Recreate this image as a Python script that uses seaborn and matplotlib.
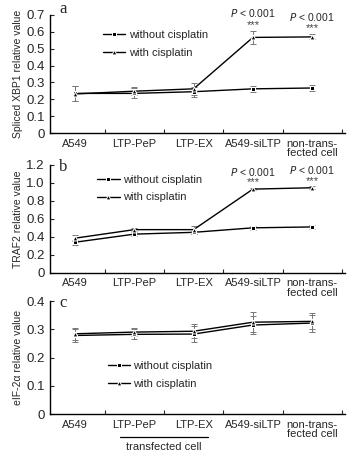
import numpy as np
import pandas as pd
import seaborn as sns
import matplotlib.pyplot as plt
from matplotlib.ticker import FixedLocator

categories = ['A549', 'LTP-PeP', 'LTP-EX', 'A549-siLTP', 'non-trans-\nfected cell']

xbp1_without = [0.235, 0.235, 0.245, 0.262, 0.267]
xbp1_with = [0.232, 0.248, 0.262, 0.567, 0.570]
xbp1_without_err = [0.045, 0.030, 0.030, 0.018, 0.018]
xbp1_with_err = [0.045, 0.025, 0.035, 0.040, 0.015]

traf2_without = [0.340, 0.430, 0.450, 0.500, 0.510]
traf2_with = [0.385, 0.480, 0.480, 0.930, 0.945]
traf2_without_err = [0.030, 0.025, 0.020, 0.020, 0.025]
traf2_with_err = [0.030, 0.020, 0.045, 0.015, 0.015]

eif_without = [0.278, 0.282, 0.283, 0.315, 0.322]
eif_with = [0.284, 0.290, 0.293, 0.325, 0.328]
eif_without_err = [0.022, 0.018, 0.028, 0.032, 0.030]
eif_with_err = [0.022, 0.015, 0.025, 0.035, 0.028]

sns.set_style('ticks')
plt.rcParams['font.family'] = ['Liberation Sans', 'DejaVu Sans']

fig = plt.figure(figsize=(3.63, 4.54), dpi=100)

panels = [
    dict(rect=[0.138, 0.707, 0.812, 0.260], ymax=0.7, yticks=[0, 0.1, 0.2, 0.3, 0.4, 0.5, 0.6, 0.7],
         letter='a', ly=1.05, ylabel='Spliced XBP1 relative value',
         data=(xbp1_without, xbp1_with, xbp1_without_err, xbp1_with_err), leg=(0.165, 0.91), ptext=True),
    dict(rect=[0.138, 0.399, 0.812, 0.238], ymax=1.2, yticks=[0, 0.2, 0.4, 0.6, 0.8, 1.0, 1.2],
         letter='b', ly=0.98, ylabel='TRAF2 relative value',
         data=(traf2_without, traf2_with, traf2_without_err, traf2_with_err), leg=(0.145, 0.95), ptext=True),
    dict(rect=[0.138, 0.088, 0.812, 0.249], ymax=0.4, yticks=[0, 0.1, 0.2, 0.3, 0.4],
         letter='c', ly=0.98, ylabel='eIF-2\u03b1 relative value',
         data=(eif_without, eif_with, eif_without_err, eif_with_err), leg=(0.18, 0.51), ptext=False),
]

x = np.arange(len(categories))

for p in panels:
    ax = fig.add_axes(p['rect'])
    wo, wi, wo_e, wi_e = p['data']
    df = pd.DataFrame({
        'x': np.concatenate([x, x]),
        'value': wo + wi,
        'group': ['without cisplatin'] * 5 + ['with cisplatin'] * 5,
    })
    ax.errorbar(x, wo, yerr=wo_e, fmt='none', ecolor='#777777', elinewidth=0.7, capsize=2, capthick=0.7)
    ax.errorbar(x, wi, yerr=wi_e, fmt='none', ecolor='#777777', elinewidth=0.7, capsize=2, capthick=0.7)
    sns.lineplot(data=df, x='x', y='value', hue='group', style='group',
                 palette=['black', 'black'], markers={'without cisplatin': 's', 'with cisplatin': '^'},
                 dashes=False, markersize=3.5, linewidth=1.0, ax=ax, legend=True)

    ax.set_xlim(-0.42, 4.55)
    ax.set_ylim(0, p['ymax'])
    ax.set_yticks(p['yticks'])
    ax.set_yticklabels(['0' if v == 0 else f'{v:.1f}' for v in p['yticks']], fontsize=9.5)
    ax.set_xticks(x)
    ax.set_xticklabels(categories, fontsize=8, linespacing=0.95)
    ax.xaxis.set_minor_locator(FixedLocator([0.5, 1.5, 2.5, 3.5, 4.5]))
    ax.tick_params(axis='x', which='major', length=0, pad=4)
    ax.tick_params(axis='x', which='minor', direction='in', length=3, width=0.8)
    ax.tick_params(axis='y', direction='in', length=3, width=0.8, pad=4)
    ax.set_xlabel('')
    ax.set_ylabel(p['ylabel'], fontsize=7.5, labelpad=2)
    sns.despine(ax=ax)
    for s in ['left', 'bottom']:
        ax.spines[s].set_linewidth(1.0)
        ax.spines[s].set_color('black')

    ax.text(0.03, p['ly'], p['letter'], transform=ax.transAxes, fontsize=12,
            family='Liberation Serif', ha='left', va='center')

    ax.legend(loc='upper left', bbox_to_anchor=p['leg'], frameon=False, fontsize=8,
              handlelength=2.0, handletextpad=0.3, labelspacing=0.7, borderaxespad=0)

    if p['ptext']:
        for xi, top in [(3, wi[3] + wi_e[3]), (4, wi[4] + wi_e[4])]:
            ax.text(xi, top + p['ymax'] * 0.15, r'$P$' + ' < 0.001', ha='center', va='center', fontsize=7.5)
            ax.text(xi, top + p['ymax'] * 0.05, '***', ha='center', va='center', fontsize=8, color='#444444')

    if p['letter'] == 'c':
        ax.plot([0.76, 2.24], [-0.205, -0.205], color='black', lw=0.9,
                transform=ax.get_xaxis_transform(), clip_on=False)
        ax.text(1.5, -0.29, 'transfected cell', transform=ax.get_xaxis_transform(),
                ha='center', va='center', fontsize=8)

fig.savefig('out.png', dpi=100)
